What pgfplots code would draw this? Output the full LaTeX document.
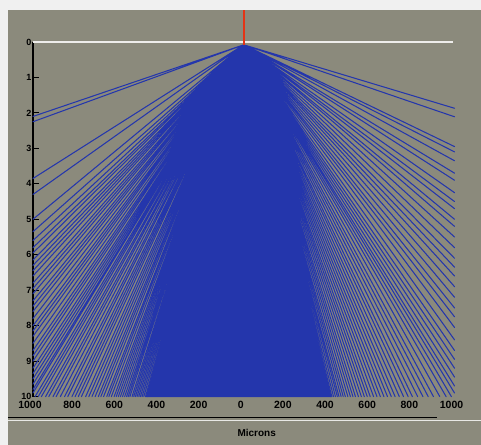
\documentclass[border=0pt]{standalone}
\usepackage{pgfplots}
\pgfplotsset{compat=1.18}
\usepackage{fontspec}
\setmainfont{Liberation Sans}
\definecolor{bg}{RGB}{139,138,124}
\definecolor{lineblue}{RGB}{36,54,172}
\definecolor{redl}{RGB}{228,52,22}
\begin{document}
\begin{tikzpicture}[x=1pt,y=1pt]
\fill[white!94!black] (0,0) rectangle (481,445);
\fill[bg] (8,0) rectangle (481,435);
\begin{axis}[
  scale only axis, width=422pt, height=355pt,
  at={(33pt,48pt)}, anchor=south west,
  xmin=-1000, xmax=1000, ymin=0, ymax=10, y dir=reverse, clip=false,
  axis y line*=left, axis x line*=bottom,
  x axis line style={draw=none},
  y axis line style={black, line width=1.2pt, -},
  xtick={-1000,-800,...,1000},
  xticklabels={1000,800,600,400,200,0,200,400,600,800,1000},
  ytick={0,...,10},
  /pgf/number format/assume math mode=true,
  tick align=inside, major tick length=6pt,
  ytick style={black, line width=1pt},
  xtick style={draw=none},
  yticklabel style={font=\fontsize{9}{9}\selectfont\bfseries, xshift=2pt},
  xticklabel style={font=\fontsize{10.5}{11}\selectfont\bfseries, xshift=-3pt, yshift=-1pt},
]
% white zero line
\addplot[white!85!bg, line width=1.2pt] coordinates {(-1000,0) (995,0)};
% dense core of the fan
\addplot[fill=lineblue, draw=lineblue, line width=1pt] coordinates {(0,0.08) (-462,10) (414,10) (0,0.08)};
% individual rays (apex -> end point)
\addplot[lineblue, line width=1.05pt, line join=round] coordinates {
(0,0.08) (-1000,2.1) (0,0.08) (-1000,2.25) (0,0.08) (-1000,3.85) (0,0.08) (-1000,4.3)
(0,0.08) (-1000,5.0) (0,0.08) (-1000,5.35) (0,0.08) (-1000,5.6) (0,0.08) (-1000,5.8)
(0,0.08) (-1000,5.95) (0,0.08) (-1000,6.15) (0,0.08) (-1000,6.3) (0,0.08) (-1000,6.45)
(0,0.08) (-1000,6.6) (0,0.08) (-1000,6.8) (0,0.08) (-1000,6.95) (0,0.08) (-1000,7.1)
(0,0.08) (-1000,7.3) (0,0.08) (-1000,7.45) (0,0.08) (-1000,7.6) (0,0.08) (-1000,7.8)
(0,0.08) (-1000,8.0) (0,0.08) (-1000,8.15) (0,0.08) (-1000,8.3) (0,0.08) (-1000,8.5)
(0,0.08) (-1000,8.7) (0,0.08) (-1000,8.85) (0,0.08) (-1000,9.0) (0,0.08) (-1000,9.2)
(0,0.08) (-1000,9.35) (0,0.08) (-1000,9.5) (0,0.08) (-1000,9.65) (0,0.08) (-1000,9.8)
(0,0.08) (-1000,9.9)
(0,0.08) (-990,10) (0,0.08) (-975,10) (0,0.08) (-960,10) (0,0.08) (-940,10)
(0,0.08) (-925,10) (0,0.08) (-905,10) (0,0.08) (-890,10) (0,0.08) (-870,10)
(0,0.08) (-850,10) (0,0.08) (-835,10) (0,0.08) (-815,10) (0,0.08) (-800,10)
(0,0.08) (-785,10) (0,0.08) (-770,10) (0,0.08) (-750,10) (0,0.08) (-735,10)
(0,0.08) (-720,10) (0,0.08) (-705,10) (0,0.08) (-690,10) (0,0.08) (-678,10)
(0,0.08) (-665,10) (0,0.08) (-650,10) (0,0.08) (-640,10) (0,0.08) (-628,10)
(0,0.08) (-615,10) (0,0.08) (-605,10) (0,0.08) (-595,10) (0,0.08) (-585,10)
(0,0.08) (-575,10) (0,0.08) (-565,10) (0,0.08) (-556,10) (0,0.08) (-548,10)
(0,0.08) (-540,10) (0,0.08) (-530,10) (0,0.08) (-522,10) (0,0.08) (-514,10)
(0,0.08) (-506,10) (0,0.08) (-498,10) (0,0.08) (-490,10) (0,0.08) (-482,10)
(0,0.08) (-474,10) (0,0.08) (-466,10) (0,0.08) (-458,10)
(0,0.08) (410,10) (0,0.08) (418,10) (0,0.08) (426,10) (0,0.08) (435,10)
(0,0.08) (444,10) (0,0.08) (452,10) (0,0.08) (462,10) (0,0.08) (472,10)
(0,0.08) (482,10) (0,0.08) (494,10) (0,0.08) (506,10) (0,0.08) (518,10)
(0,0.08) (530,10) (0,0.08) (544,10) (0,0.08) (558,10) (0,0.08) (572,10)
(0,0.08) (586,10) (0,0.08) (600,10) (0,0.08) (616,10) (0,0.08) (632,10)
(0,0.08) (648,10) (0,0.08) (665,10) (0,0.08) (682,10) (0,0.08) (700,10)
(0,0.08) (718,10) (0,0.08) (738,10) (0,0.08) (758,10) (0,0.08) (780,10)
(0,0.08) (800,10) (0,0.08) (825,10) (0,0.08) (850,10) (0,0.08) (875,10)
(0,0.08) (900,10) (0,0.08) (930,10) (0,0.08) (960,10) (0,0.08) (985,10)
(0,0.08) (1000,1.87) (0,0.08) (1000,2.11) (0,0.08) (1000,2.95) (0,0.08) (1000,3.1)
(0,0.08) (1000,3.35) (0,0.08) (1000,3.7) (0,0.08) (1000,3.9) (0,0.08) (1000,4.25)
(0,0.08) (1000,4.5) (0,0.08) (1000,4.7) (0,0.08) (1000,5.0) (0,0.08) (1000,5.2)
(0,0.08) (1000,5.5) (0,0.08) (1000,5.8) (0,0.08) (1000,6.1) (0,0.08) (1000,6.35)
(0,0.08) (1000,6.6) (0,0.08) (1000,6.9) (0,0.08) (1000,7.2) (0,0.08) (1000,7.5)
(0,0.08) (1000,7.75) (0,0.08) (1000,8.05) (0,0.08) (1000,8.4) (0,0.08) (1000,8.7)
(0,0.08) (1000,8.95) (0,0.08) (1000,9.2) (0,0.08) (1000,9.45) (0,0.08) (1000,9.7)
(0,0.08) (1000,9.9) (0,0.08)
};
% red vertical marker at x = 0
\addplot[redl, line width=2.5pt] coordinates {(0,-0.9) (0,0.08)};
\end{axis}
\draw[black, line width=1.3pt] (8,27) -- (437,27);
\draw[white!80!bg, line width=1pt] (8,24) -- (481,24);
\node[font=\fontsize{10}{10}\selectfont\bfseries] at (257,12) {Microns};
\end{tikzpicture}
\end{document}
